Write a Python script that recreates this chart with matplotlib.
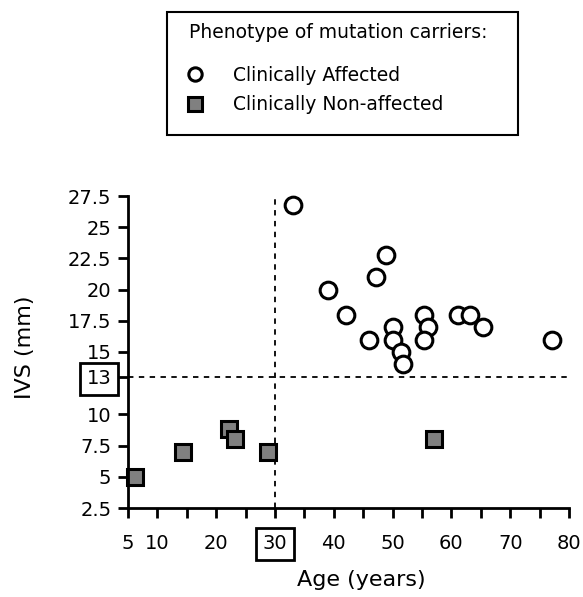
import matplotlib.pyplot as plt
from matplotlib.ticker import FixedLocator
from matplotlib.patches import Rectangle

# Données
age_affected = [33, 48.9, 47.2, 39, 42, 46, 50.1, 50.1, 51.4, 51.8, 55.3, 56.1, 55.3, 61.2, 63.1, 65.3, 77.1]
ivs_affected = [26.8, 22.8, 21, 20, 18, 16, 17, 16, 15, 14, 18, 17, 16, 18, 18, 17, 16]

age_nonaffected = [6.2, 14.4, 22.1, 23.2, 28.8, 57.1]
ivs_nonaffected = [5, 7, 8.8, 8, 7, 8]

seuil_age = 30
seuil_ivs = 13

xticks = [5, 10, 20, 30, 40, 50, 60, 70, 80]
xminor = [15, 25, 35, 45, 55, 65, 75]
yticks = [2.5, 5, 7.5, 10, 13, 15, 17.5, 20, 22.5, 25, 27.5]
ylabels = ["2.5", "5", "7.5", "10", "13", "15", "17.5", "20", "22.5", "25", "27.5"]

W, H = 583, 597
fig = plt.figure(figsize=(W / 100, H / 100), dpi=100)
ax = fig.add_axes([128 / W, 1 - 508 / H, 441 / W, 312 / H])

ax.axvline(seuil_age, color="black", lw=1.3, ls=(0, (3, 3)))
ax.axhline(seuil_ivs, color="black", lw=1.3, ls=(0, (3, 3)))

aff, = ax.plot(age_affected, ivs_affected, "o", ms=12, mfc="white", mec="black",
               mew=2.2, clip_on=False, label="Clinically Affected")
non, = ax.plot(age_nonaffected, ivs_nonaffected, "s", ms=12, mfc="#808080", mec="black",
               mew=2.2, clip_on=False, label="Clinically Non-affected")

ax.set_xlim(5, 80)
ax.set_ylim(2.5, 27.5)
ax.set_xticks(xticks)
ax.xaxis.set_minor_locator(FixedLocator(xminor))
ax.set_yticks(yticks)
ax.set_yticklabels(ylabels)

for s in ["top", "right"]:
    ax.spines[s].set_visible(False)
for s in ["left", "bottom"]:
    ax.spines[s].set_linewidth(2)

ax.tick_params(which="both", direction="out", length=7, width=2, labelsize=14, pad=5)
ax.tick_params(axis="x", pad=12)

boite = dict(facecolor="white", edgecolor="black", lw=2, boxstyle="square,pad=0.32")
for lbl in ax.get_yticklabels():
    if lbl.get_text() == "13":
        lbl.set_bbox(boite)
for lbl in ax.get_xticklabels():
    if lbl.get_text() == "30":
        lbl.set_bbox(boite)

ax.set_xlabel("Age (years)", fontsize=16)
ax.set_ylabel("IVS (mm)", fontsize=16)
ax.xaxis.set_label_coords(0.528, -0.2)
ax.yaxis.set_label_coords(-0.212, 0.515)

# Légende : cadre, titre et entrées
fig.add_artist(Rectangle((167 / W, 1 - 135 / H), 351 / W, 123 / H, transform=fig.transFigure,
                         fill=False, edgecolor="black", lw=1.5))
fig.text(189 / W, 1 - 33 / H, "Phenotype of mutation carriers:", fontsize=13.5,
         ha="left", va="center")
leg = fig.legend(handles=[aff, non], loc="center left",
                 bbox_to_anchor=(185.6 / W, 1 - 90 / H), frameon=False,
                 fontsize=13.5, borderpad=0, borderaxespad=0, handlelength=1.0,
                 handletextpad=1.53, labelspacing=0.55, markerscale=0.8)

plt.savefig("out.png")
